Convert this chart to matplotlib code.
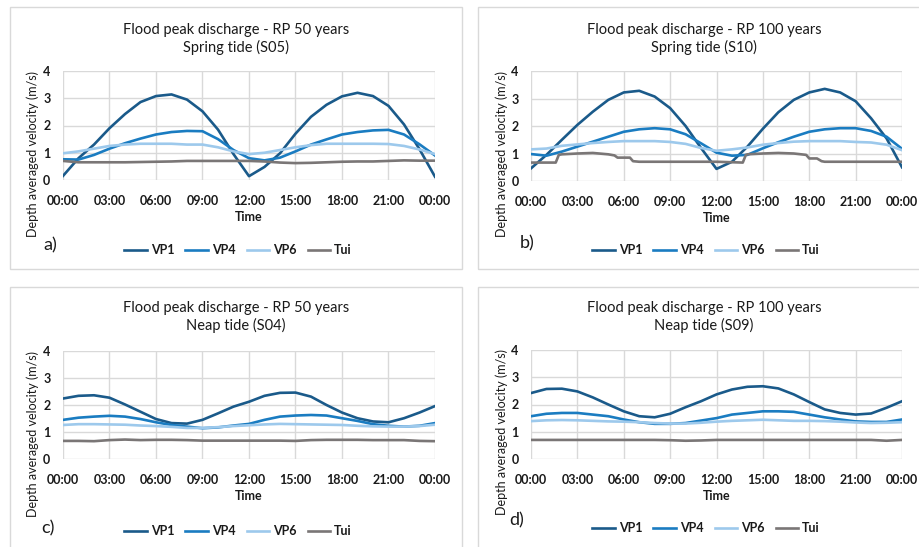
import numpy as np
import matplotlib.pyplot as plt
from matplotlib.patches import Rectangle

plt.rcParams['font.family'] = ['Lato', 'DejaVu Sans']

W, H = 920, 547

# time axis in hours (hourly samples over one day)
hours = np.arange(0, 25)
tick_hours = np.arange(0, 25, 3)
tick_labels = ['00:00', '03:00', '06:00', '09:00', '12:00', '15:00', '18:00', '21:00', '00:00']

# a) RP 50 years, spring tide (S05)
a_vp1 = [0.15, 0.8, 1.3, 1.9, 2.42, 2.86, 3.08, 3.14, 2.95, 2.52, 1.85, 0.95, 0.14,
         0.48, 0.98, 1.7, 2.32, 2.76, 3.07, 3.2, 3.08, 2.72, 2.04, 1.13, 0.12]
a_vp4 = [0.76, 0.75, 0.92, 1.15, 1.35, 1.52, 1.67, 1.76, 1.8, 1.79, 1.5, 1.1, 0.8,
         0.72, 0.82, 1.05, 1.3, 1.49, 1.67, 1.76, 1.82, 1.84, 1.67, 1.31, 0.9]
a_vp6 = [0.98, 1.05, 1.15, 1.25, 1.3, 1.33, 1.33, 1.33, 1.3, 1.3, 1.2, 1.05, 0.95,
         1.0, 1.1, 1.2, 1.28, 1.33, 1.33, 1.33, 1.33, 1.32, 1.25, 1.12, 0.95]
a_tui = [0.7, 0.65, 0.65, 0.65, 0.65, 0.66, 0.67, 0.68, 0.7, 0.7, 0.7, 0.7, 0.7,
         0.68, 0.64, 0.62, 0.63, 0.65, 0.67, 0.68, 0.68, 0.7, 0.72, 0.71, 0.71]

# b) RP 100 years, spring tide (S10)
b_vp1 = [0.46, 0.95, 1.5, 2.04, 2.52, 2.95, 3.22, 3.28, 3.07, 2.65, 2.0, 1.2, 0.44,
         0.7, 1.25, 1.9, 2.5, 2.95, 3.22, 3.35, 3.22, 2.9, 2.28, 1.55, 0.5]
b_vp4 = [0.98, 0.92, 1.07, 1.25, 1.43, 1.61, 1.79, 1.88, 1.92, 1.88, 1.7, 1.37, 1.03,
         0.92, 0.95, 1.19, 1.41, 1.61, 1.79, 1.88, 1.92, 1.92, 1.82, 1.61, 1.17]
b_vp6 = [1.15, 1.18, 1.28, 1.33, 1.38, 1.42, 1.45, 1.45, 1.45, 1.42, 1.35, 1.2, 1.1,
         1.15, 1.22, 1.32, 1.38, 1.43, 1.45, 1.45, 1.45, 1.42, 1.4, 1.32, 1.12]
b_tui_t = [0, 1.6, 1.8, 2, 3, 4, 5, 5.4, 5.6, 6, 6.4, 6.6, 7, 12, 13.7, 13.9, 14, 15, 16,
           17, 17.8, 18, 18.5, 18.8, 19, 24]
b_tui = [0.67, 0.67, 0.95, 0.97, 1.0, 1.02, 0.97, 0.93, 0.85, 0.85, 0.85, 0.72, 0.7, 0.7,
         0.67, 0.95, 0.97, 1.0, 1.02, 1.0, 0.95, 0.82, 0.82, 0.72, 0.7, 0.7]

# c) RP 50 years, neap tide (S04)
c_vp1 = [2.24, 2.34, 2.36, 2.27, 2.02, 1.75, 1.48, 1.33, 1.31, 1.45, 1.69, 1.94, 2.12,
         2.34, 2.45, 2.46, 2.31, 2.0, 1.72, 1.51, 1.39, 1.36, 1.51, 1.72, 1.96]
c_vp4 = [1.45, 1.53, 1.57, 1.6, 1.57, 1.48, 1.36, 1.26, 1.2, 1.14, 1.17, 1.24, 1.3,
         1.45, 1.57, 1.61, 1.63, 1.61, 1.51, 1.41, 1.29, 1.23, 1.2, 1.23, 1.33]
c_vp6 = [1.26, 1.29, 1.29, 1.28, 1.27, 1.24, 1.22, 1.19, 1.15, 1.15, 1.18, 1.22, 1.25,
         1.28, 1.3, 1.29, 1.28, 1.27, 1.26, 1.23, 1.21, 1.2, 1.2, 1.22, 1.27]
c_tui = [0.67, 0.67, 0.66, 0.7, 0.72, 0.7, 0.71, 0.71, 0.7, 0.68, 0.68, 0.68, 0.68,
         0.68, 0.68, 0.67, 0.7, 0.71, 0.71, 0.71, 0.7, 0.7, 0.7, 0.67, 0.66]

# d) RP 100 years, neap tide (S09)
d_vp1 = [2.42, 2.57, 2.58, 2.48, 2.26, 2.0, 1.75, 1.57, 1.53, 1.66, 1.9, 2.12, 2.37,
         2.55, 2.65, 2.67, 2.59, 2.37, 2.09, 1.82, 1.69, 1.63, 1.67, 1.88, 2.12]
d_vp4 = [1.57, 1.66, 1.69, 1.69, 1.63, 1.57, 1.45, 1.35, 1.29, 1.29, 1.32, 1.41, 1.5,
         1.63, 1.69, 1.75, 1.75, 1.73, 1.63, 1.53, 1.45, 1.38, 1.36, 1.36, 1.45]
d_vp6 = [1.39, 1.42, 1.43, 1.42, 1.4, 1.38, 1.37, 1.35, 1.32, 1.3, 1.3, 1.33, 1.37,
         1.4, 1.42, 1.44, 1.42, 1.4, 1.4, 1.39, 1.37, 1.34, 1.32, 1.33, 1.35]
d_tui = [0.7, 0.7, 0.7, 0.7, 0.7, 0.7, 0.7, 0.7, 0.7, 0.69, 0.67, 0.68, 0.7,
         0.7, 0.7, 0.7, 0.7, 0.7, 0.7, 0.7, 0.7, 0.7, 0.7, 0.67, 0.7]

series_names = ['VP1', 'VP4', 'VP6', 'Tui']
colors = ['#1a5a8a', '#1a7cc1', '#9dc9ec', '#7a7676']
txt_col = '#1a1a1a'

panels = [
    dict(title='Flood peak discharge - RP 50 years\nSpring tide (S05)', tag='a)',
         data=[(hours, a_vp1), (hours, a_vp4), (hours, a_vp6), (hours, a_tui)],
         box=(10, 7, 462, 269), ax=(63, 71, 435, 180), tx=236, ty=39,
         ylx=33, yly=154, tagxy=(50, 245), legy=250, legx=238),
    dict(title='Flood peak discharge - RP 100 years\nSpring tide (S10)', tag='b)',
         data=[(hours, b_vp1), (hours, b_vp4), (hours, b_vp6), (b_tui_t, b_tui)],
         box=(478, 7, 930, 269), ax=(531, 71, 902, 181), tx=704, ty=39,
         ylx=502, yly=154, tagxy=(527, 243), legy=250, legx=706),
    dict(title='Flood peak discharge - RP 50 years\nNeap tide (S04)', tag='c)',
         data=[(hours, c_vp1), (hours, c_vp4), (hours, c_vp6), (hours, c_tui)],
         box=(10, 287, 462, 560), ax=(63, 351, 435, 459), tx=236, ty=317,
         ylx=33, yly=434, tagxy=(48, 528), legy=531, legx=238),
    dict(title='Flood peak discharge - RP 100 years\nNeap tide (S09)', tag='d)',
         data=[(hours, d_vp1), (hours, d_vp4), (hours, d_vp6), (hours, d_tui)],
         box=(478, 287, 930, 560), ax=(531, 350, 902, 459), tx=704, ty=317,
         ylx=502, yly=432, tagxy=(517, 520), legy=528, legx=706),
]


def fx(x):
    return x / W


def fy(y):
    return 1 - y / H


fig = plt.figure(figsize=(W / 100, H / 100), dpi=100)

for p in panels:
    x0, y0, x1, y1 = p['box']
    fig.patches.append(Rectangle((fx(x0), fy(y1)), fx(x1 - x0), (y1 - y0) / H,
                                 transform=fig.transFigure, fill=False,
                                 edgecolor='#d9d9d9', lw=1))
    l, t, r, b = p['ax']
    ax = fig.add_axes([fx(l), fy(b), fx(r - l), (b - t) / H])
    lines = []
    for (t_, v), c, n in zip(p['data'], colors, series_names):
        ln, = ax.plot(t_, v, color=c, lw=1.9, label=n)
        lines.append(ln)
    ax.set_xlim(0, 24)
    ax.set_ylim(0, 4)
    ax.set_xticks(tick_hours)
    ax.set_xticklabels(tick_labels)
    ax.set_yticks(range(5))
    ax.grid(True, color='#d9d9d9', lw=1)
    ax.set_axisbelow(True)
    for s in ax.spines.values():
        s.set_visible(False)
    ax.tick_params(length=0, labelsize=9)
    ax.tick_params(axis='x', pad=11)
    ax.tick_params(axis='y', pad=9)
    for lab in ax.get_xticklabels() + ax.get_yticklabels():
        lab.set_fontweight('bold')
        lab.set_color(txt_col)
    ax.set_xlabel('Time', fontsize=9, fontweight='bold', color=txt_col, labelpad=3)

    fig.text(fx(p['tx']), fy(p['ty']), p['title'], ha='center', va='center',
             fontsize=10.5, color=txt_col, linespacing=1.3)
    fig.text(fx(p['ylx']), fy(p['yly']), 'Depth averaged velocity (m/s)',
             rotation=90, ha='center', va='center', fontsize=9, color=txt_col)
    fig.text(fx(p['tagxy'][0]), fy(p['tagxy'][1]), p['tag'], ha='center',
             va='center', fontsize=13, color=txt_col)
    leg = fig.legend(handles=lines, loc='center', ncol=4, frameon=False,
                     bbox_to_anchor=(fx(p['legx']), fy(p['legy'])),
                     fontsize=9, handlelength=1.8, handletextpad=0.3,
                     columnspacing=0.9)
    for txt in leg.get_texts():
        txt.set_fontweight('bold')
        txt.set_color(txt_col)

fig.savefig('out.png', dpi=100)
